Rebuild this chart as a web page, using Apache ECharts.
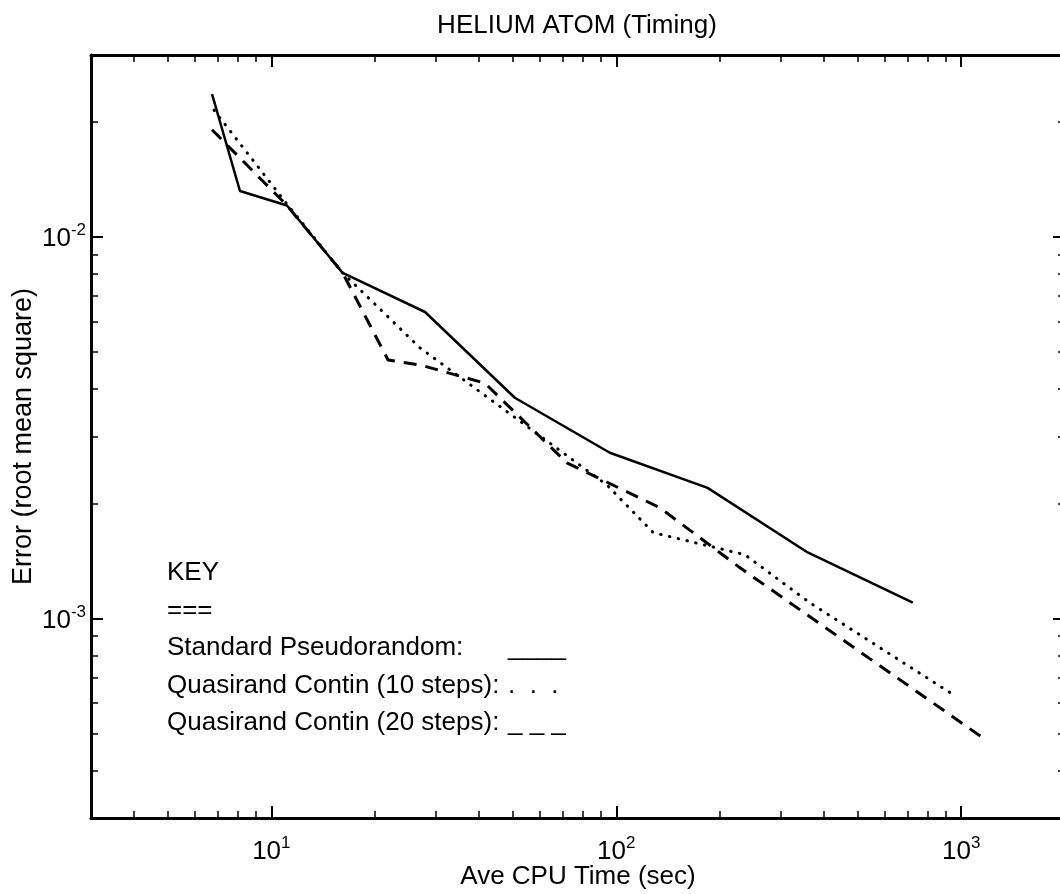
<!DOCTYPE html>
<html>
<head>
<meta charset="utf-8">
<title>HELIUM ATOM (Timing)</title>
<script src="https://cdn.jsdelivr.net/npm/echarts@6/dist/echarts.min.js"></script>
<style>
html, body { margin: 0; padding: 0; background: #fff; }
#main { width: 1060px; height: 894px; }
</style>
</head>
<body>
<div id="main"></div>
<script>
// cpu time (sec) and rms error
var stdTime = [6.73, 8.11, 11.1, 16.1, 27.9, 50.8, 95.8, 184, 359, 724];
var stdErr  = [0.0237, 0.0132, 0.0121, 0.00805, 0.00636, 0.00379, 0.00272, 0.00220, 0.00149, 0.00110];
var q10Time = [6.82, 11.1, 16.1, 27.0, 93.9, 128, 236, 364, 971];
var q10Err  = [0.0215, 0.0122, 0.00805, 0.00512, 0.00224, 0.00168, 0.00147, 0.00110, 0.000623];
var q20Time = [6.73, 11.1, 16.1, 21.8, 27.0, 41.6, 71.9, 134, 228, 1147];
var q20Err  = [0.0191, 0.0121, 0.00805, 0.00476, 0.00462, 0.00414, 0.00256, 0.00195, 0.00136, 0.000489];

var xMajor = [10, 100, 1000];
var xMinor = [4, 5, 6, 7, 8, 9, 20, 30, 40, 50, 60, 70, 80, 90, 200, 300, 400, 500, 600, 700, 800, 900];
var yMajor = [0.001, 0.01];
var yMinor = [0.0004, 0.0005, 0.0006, 0.0007, 0.0008, 0.0009, 0.002, 0.003, 0.004, 0.005, 0.006, 0.007, 0.008, 0.009, 0.02];

var keyLines = ['KEY', '===', 'Standard Pseudorandom:', 'Quasirand Contin (10 steps):', 'Quasirand Contin (20 steps):'];
var keyMarks = ['____', '.  .  .', '_ _ _'];

var FONT = '"Liberation Sans", Arial, sans-serif';

function pairs(xs, ys) {
    return xs.map(function (x, i) { return [x, ys[i]]; });
}

function powLabel(v) {
    return '{b|10}{s|' + Math.round(Math.log10(v)) + '}';
}

var labelRich = {
    b: { fontFamily: FONT, fontSize: 26, color: '#000', lineHeight: 30, verticalAlign: 'bottom' },
    s: { fontFamily: FONT, fontSize: 17, color: '#000', verticalAlign: 'top' }
};

function xAxisOf(pos, major) {
    return {
        type: 'log', logBase: 10, min: 3, max: 2000, position: pos,
        axisLine: { show: major, lineStyle: { color: '#000', width: 3 } },
        axisTick: { show: true, inside: true, length: major ? 12 : 7,
            customValues: major ? xMajor : xMinor,
            lineStyle: { color: '#000', width: major ? 2 : 1.5 } },
        axisLabel: { show: false },
        splitLine: { show: false }
    };
}

function yAxisOf(pos, major) {
    return {
        type: 'log', logBase: 10, min: 0.0003, max: 0.03, position: pos,
        // the right-hand frame line sits just off the page in the original
        axisLine: { show: major && pos === 'left', lineStyle: { color: '#000', width: 3 } },
        axisTick: { show: true, inside: true, length: major ? 12 : 7,
            customValues: major ? yMajor : yMinor,
            lineStyle: { color: '#000', width: major ? 2 : 1.5 } },
        axisLabel: { show: false },
        splitLine: { show: false }
    };
}

var xAxes = [xAxisOf('bottom', true), xAxisOf('bottom', false), xAxisOf('top', true), xAxisOf('top', false)];
xAxes[0].axisLabel = { show: true, customValues: xMajor, margin: 17, formatter: powLabel, rich: labelRich };
xAxes[0].name = 'Ave CPU Time (sec)';
xAxes[0].nameLocation = 'middle';
xAxes[0].nameGap = 46;
xAxes[0].nameMoveOverlap = false;
xAxes[0].nameTextStyle = { fontFamily: FONT, fontSize: 26, color: '#000' };

var yAxes = [yAxisOf('left', true), yAxisOf('left', false), yAxisOf('right', true), yAxisOf('right', false)];
yAxes[0].axisLabel = { show: true, customValues: yMajor, margin: 5, formatter: powLabel, rich: labelRich };
yAxes[0].name = 'Error (root mean square)';
yAxes[0].nameLocation = 'middle';
yAxes[0].nameGap = 54;
yAxes[0].nameMoveOverlap = false;
yAxes[0].nameTextStyle = { fontFamily: FONT, fontSize: 27, color: '#000' };

var keyGraphics = [{
    type: 'text', x: 577, y: 26,
    style: { text: 'HELIUM ATOM (Timing)', font: '26px ' + FONT, fill: '#000',
        align: 'center', verticalAlign: 'middle', textAlign: 'center', textVerticalAlign: 'middle' }
}];
keyLines.forEach(function (t, i) {
    keyGraphics.push({
        type: 'text', x: 167, y: 573 + i * 37.5,
        style: { text: t, font: '26px ' + FONT, fill: '#000',
            align: 'left', verticalAlign: 'middle', textAlign: 'left', textVerticalAlign: 'middle' }
    });
});
keyMarks.forEach(function (t, i) {
    keyGraphics.push({
        type: 'text', x: 508, y: 648 + i * 37.5,
        style: { text: t, font: '26px ' + FONT, fill: '#000',
            align: 'left', verticalAlign: 'middle', textAlign: 'left', textVerticalAlign: 'middle' }
    });
});

var chart = echarts.init(document.getElementById('main'), null, { renderer: 'canvas' });
chart.setOption({
    animation: false,
    backgroundColor: '#fff',
    grid: { left: 91, right: -5, top: 55, bottom: 76, containLabel: false, outerBoundsMode: 'none' },
    xAxis: xAxes,
    yAxis: yAxes,
    graphic: keyGraphics,
    series: [
        { name: 'Standard Pseudorandom', type: 'line', symbol: 'none', data: pairs(stdTime, stdErr),
          lineStyle: { color: '#000', width: 2.5, type: 'solid' } },
        { name: 'Quasirand Contin (10 steps)', type: 'line', symbol: 'none', data: pairs(q10Time, q10Err),
          lineStyle: { color: '#000', width: 3, type: [0.5, 8.5], cap: 'round' } },
        { name: 'Quasirand Contin (20 steps)', type: 'line', symbol: 'none', data: pairs(q20Time, q20Err),
          lineStyle: { color: '#000', width: 3, type: [13, 9] } }
    ]
});
</script>
</body>
</html>
